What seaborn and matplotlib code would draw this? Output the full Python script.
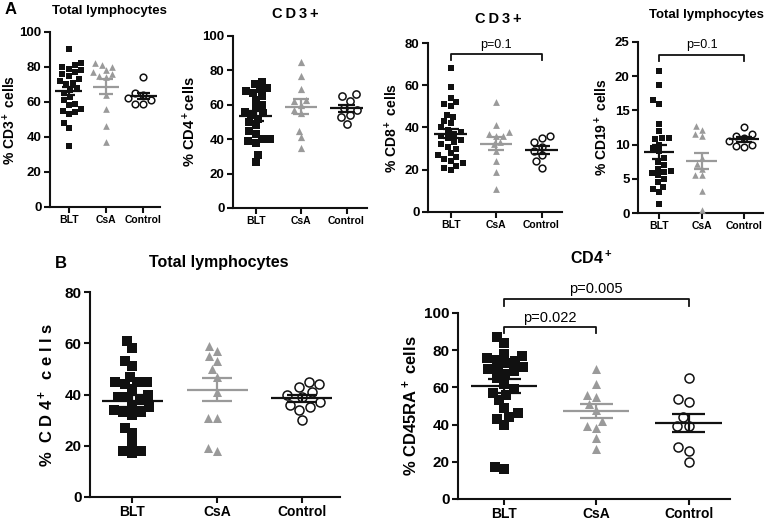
import numpy as np
import pandas as pd
import matplotlib
matplotlib.use('Agg')
import matplotlib.pyplot as plt
import seaborn as sns
import warnings

warnings.filterwarnings('ignore')

groups = ['BLT', 'CsA', 'Control']

# panel A - % CD3+ of total lymphocytes
cd3_blt = [90, 82, 81, 80, 79, 78, 77, 76, 75, 73, 72, 71, 70, 68, 67, 65, 63, 61,
           59, 58, 56, 55, 54, 53, 48, 45, 35]
cd3_csa = [82, 81, 80, 78, 77, 76, 75, 74, 64, 56, 46, 37]
cd3_ctl = [74, 65, 64, 62, 61, 59, 59]

# % CD4+ of CD3+
cd4_blt = [73, 72, 70, 69, 68, 67, 65, 63, 60, 58, 56, 55, 54, 52, 50, 48, 45, 43,
           40, 40, 39, 38, 31, 27]
cd4_csa = [85, 77, 69, 63, 62, 60, 57, 55, 45, 41, 35]
cd4_ctl = [66, 65, 62, 58, 57, 54, 53, 49]

# % CD8+ of CD3+
cd8_blt = [68, 59, 54, 52, 51, 50, 46, 45, 43, 42, 40, 39, 38, 37, 36, 35, 34, 33,
           32, 31, 30, 28, 27, 26, 25, 24, 23, 22, 21, 20]
cd8_csa = [52, 41, 38, 37, 36, 36, 33, 32, 29, 24, 19, 11]
cd8_ctl = [36, 35, 33, 31, 29, 27, 24, 21]

# % CD19+ of total lymphocytes
cd19_blt = [20.7, 18.7, 16.5, 16, 13, 12, 11, 11, 10.8, 10, 9.5, 9, 8, 7.5, 7, 6.5,
            6.2, 6, 5.8, 5.5, 5, 4.5, 3.8, 3.5, 3, 1.3]
cd19_csa = [12.7, 12.2, 11.5, 11.2, 8, 7.2, 6.5, 5.5, 5.5, 3.2, 0.5]
cd19_ctl = [12.6, 11.5, 11.2, 11, 10.5, 10, 9.8, 9.6]

# panel B - % CD4+ of total lymphocytes
b_cd4_blt = [61, 58, 53, 51, 47, 45, 45, 44, 45, 42, 40, 39, 39, 38, 36, 35, 34, 33,
             33, 32, 27, 25, 21, 18, 18, 17]
b_cd4_csa = [59, 57, 55, 53, 50, 47, 41, 31, 31, 19, 18]
b_cd4_ctl = [45, 43, 44, 41, 40, 39, 37, 36, 35, 34, 30]

# % CD45RA+ of CD4+
ra_blt = [87, 84, 78, 77, 76, 75, 74, 73, 71, 70, 70, 69, 67, 65, 62, 59, 57, 56,
          53, 49, 46, 44, 43, 40, 17, 16]
ra_csa = [70, 62, 56, 55, 51, 48, 42, 39, 38, 33, 27]
ra_ctl = [65, 54, 52, 44, 39, 39, 28, 26, 20]

BLACK = '#111111'
GREY = '#9a9a9a'
FONT = 'Liberation Sans'

W, H = 767, 521
fig = plt.figure(figsize=(W / 100, H / 100), dpi=100)
plt.rcParams['font.family'] = [FONT, 'DejaVu Sans']
plt.rcParams['mathtext.fontset'] = 'custom'
plt.rcParams['mathtext.rm'] = FONT
plt.rcParams['mathtext.bf'] = FONT + ':bold'
plt.rcParams['mathtext.default'] = 'bf'


def rect(left, right, top, bottom):
    return [left / W, 1 - bottom / H, (right - left) / W, (bottom - top) / H]


def panel(r, blt, csa, ctl, ylim, yticks, ylabel, msize, tfs, xfs, lfs, lpad=3):
    ax = fig.add_axes(r)
    styles = [
        (blt, dict(marker='s', color=BLACK, linewidth=0)),
        (csa, dict(marker='^', color=GREY, linewidth=0)),
        (ctl, dict(marker='o', color='white', edgecolor=BLACK, linewidth=1.1)),
    ]
    for g, (vals, kw) in zip(groups, styles):
        df = pd.DataFrame({'group': g, 'value': vals})
        sns.swarmplot(data=df, x='group', y='value', order=groups, size=msize,
                      ax=ax, **kw)
    # mean +/- SEM
    for i, vals in enumerate([blt, csa, ctl]):
        v = np.asarray(vals, dtype=float)
        m = v.mean()
        se = v.std(ddof=1) / np.sqrt(len(v))
        c = GREY if i == 1 else BLACK
        ax.hlines(m, i - 0.36, i + 0.36, color=c, lw=1.6, zorder=5)
        ax.hlines([m - se, m + se], i - 0.18, i + 0.18, color=c, lw=1.6, zorder=5)
        ax.vlines(i, m - se, m + se, color=c, lw=1.6, zorder=5)
    ax.set_xlim(-0.5, 2.45)
    ax.set_ylim(*ylim)
    ax.set_yticks(yticks)
    ax.set_xlabel('')
    ax.set_ylabel(ylabel, fontsize=lfs, fontweight='bold', labelpad=lpad)
    sns.despine(ax=ax)
    for s in ['left', 'bottom']:
        ax.spines[s].set_linewidth(1.5)
        ax.spines[s].set_color(BLACK)
    ax.tick_params(axis='both', width=1.5, length=4, color=BLACK, pad=2)
    ax.tick_params(axis='y', labelsize=tfs)
    ax.tick_params(axis='x', labelsize=xfs)
    for t in ax.get_xticklabels() + ax.get_yticklabels():
        t.set_fontweight('bold')
    ax.set_facecolor('white')
    return ax


def bracket(ax, x0, x1, y, drop, text, ty, tx, fs):
    ax.plot([x0, x0, x1, x1], [y - drop, y, y, y - drop], color=BLACK, lw=1.3,
            clip_on=False)
    ax.text(tx, ty, text, ha='center', va='center', fontsize=fs, clip_on=False)


a1 = panel(rect(50, 160, 32, 207), cd3_blt, cd3_csa, cd3_ctl, (0, 100),
           range(0, 101, 20), '% CD3$^+$ cells', 4.8, 9.5, 7.5, 10, lpad=1)
a2 = panel(rect(233, 367, 36, 208), cd4_blt, cd4_csa, cd4_ctl, (0, 100),
           range(0, 101, 20), '% CD4$^+$cells', 5.2, 9.5, 7.5, 10.5)
a3 = panel(rect(428, 562, 43, 212), cd8_blt, cd8_csa, cd8_ctl, (0, 80),
           range(0, 81, 20), '% CD8$^+$ cells', 4.9, 9.5, 7.5, 10)
a4 = panel(rect(638, 763, 42, 213), cd19_blt, cd19_csa, cd19_ctl, (0, 25),
           range(0, 26, 5), '% CD19$^+$ cells', 4.7, 9.5, 7.5, 10)
b1 = panel(rect(90, 340, 292, 497), b_cd4_blt, b_cd4_csa, b_cd4_ctl, (0, 80),
           range(0, 81, 20), '%  C D 4$^+$  c e l l s', 6.5, 11, 10, 12, lpad=6)
b2 = panel(rect(458, 730, 313, 499), ra_blt, ra_csa, ra_ctl, (0, 100),
           range(0, 101, 20), '% CD45RA$^+$ cells', 6.5, 11, 10, 12)

bracket(a3, 0, 2, 75, 3, 'p=0.1', 79, 1, 9)
bracket(a4, 0, 2, 23.1, 0.9, 'p=0.1', 24.6, 1, 9)
bracket(b2, 0, 1, 92.5, 3.5, 'p=0.022', 97.5, 0.5, 10.5)
bracket(b2, 0, 2, 107.5, 3.5, 'p=0.005', 113, 1, 10.5)


# titles
def ftext(x, y, s, fs, **kw):
    fig.text(x / W, 1 - y / H, s, fontsize=fs, fontweight='bold', ha='center',
             va='center', **kw)


ftext(109, 11, 'Total lymphocytes', 9.5)
ftext(295, 14, 'C\u2009D\u20093\u2009+', 10.5)
ftext(498, 19, 'C\u2009D\u20093\u2009+', 10.5)
ftext(706, 15, 'Total lymphocytes', 9.5)
ftext(219, 263, 'Total lymphocytes', 11.5)
ftext(591, 258, 'CD4$^+$', 11.5)
ftext(11, 10, 'A', 12)
ftext(61, 263, 'B', 12)

fig.savefig('out.png', dpi=100, facecolor='white')
